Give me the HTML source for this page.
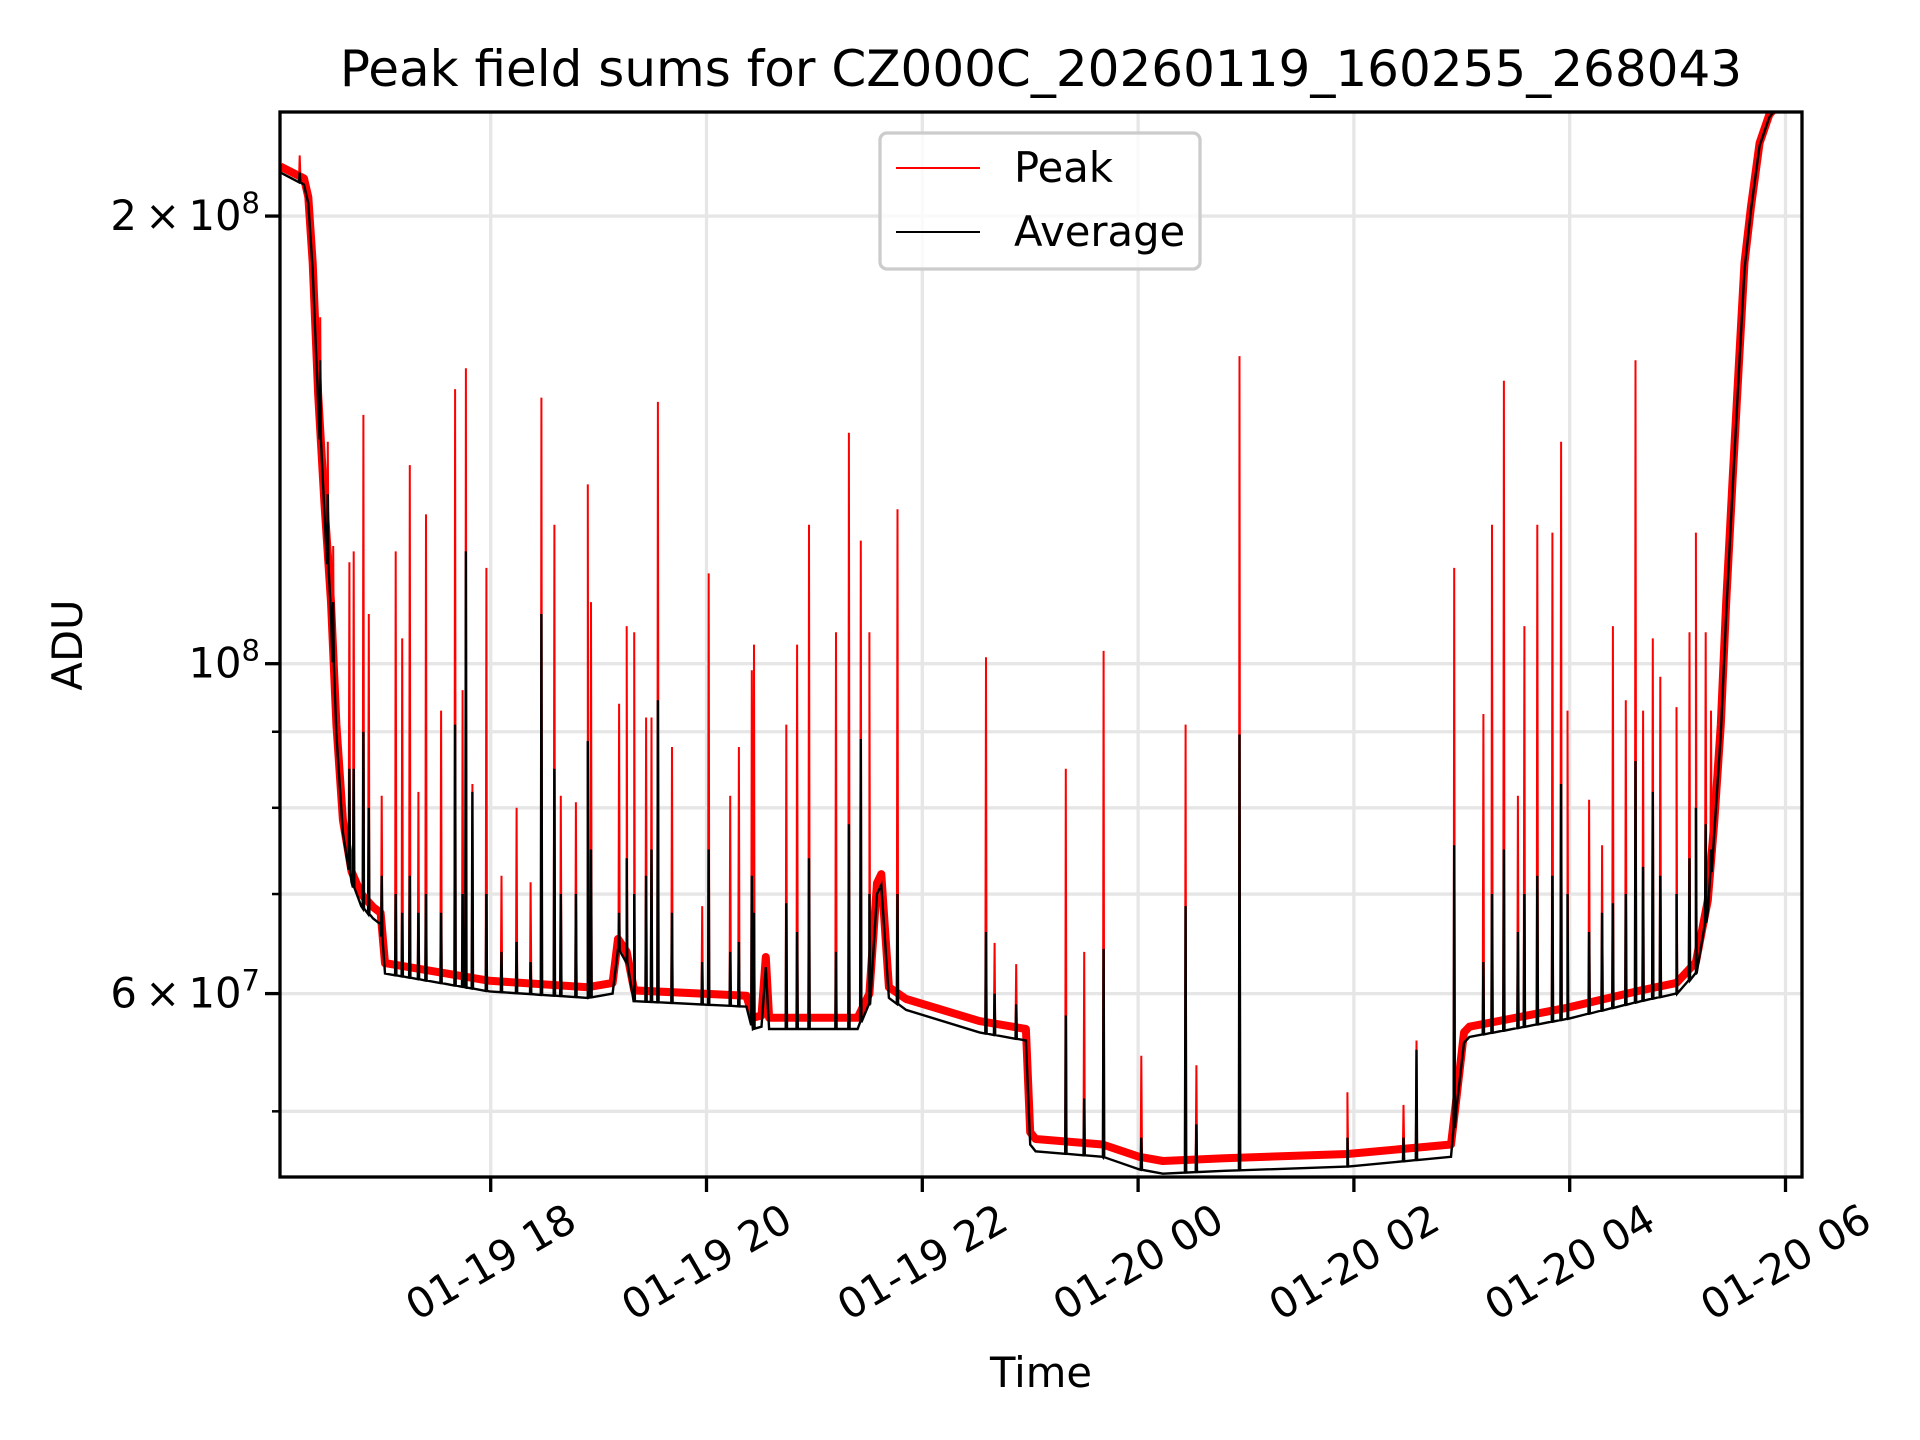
<!DOCTYPE html>
<html><head><meta charset="utf-8"><style>
html,body{margin:0;padding:0;background:#fff}
svg{display:block;font-family:"DejaVu Sans","Liberation Sans",sans-serif}
</style></head><body>
<svg id="chart" width="1920" height="1440" viewBox="0 0 1920 1440" xmlns="http://www.w3.org/2000/svg">
<rect width="1920" height="1440" fill="#fff"/>
<defs><clipPath id="clip"><rect x="280" y="112" width="1522" height="1065"/></clipPath></defs>
<g id="grid"></g>
<g id="series" clip-path="url(#clip)"></g>
<rect x="280" y="112" width="1522" height="1065" fill="none" stroke="#000" stroke-width="3.3"/>
<g id="ticks"></g>
<text x="1041" y="86" font-size="50" text-anchor="middle">Peak field sums for CZ000C_20260119_160255_268043</text>
<text x="1041" y="1387" font-size="41.7" text-anchor="middle">Time</text>
<text transform="translate(82,645) rotate(-90)" font-size="41.7" text-anchor="middle">ADU</text>
<g>
<rect x="880" y="133" width="320" height="136" rx="7" fill="#fff" fill-opacity="0.8" stroke="#ccc" stroke-width="3.3"/>
<line x1="896" y1="168" x2="980" y2="168" stroke="#f00" stroke-width="2"/>
<text x="1014" y="182" font-size="41.7">Peak</text>
<line x1="896" y1="232" x2="980" y2="232" stroke="#000" stroke-width="2"/>
<text x="1014" y="246" font-size="41.7">Average</text>
</g>
</svg>
<script>
// times in clock hours since 01-19 00:00; values in units of 1e7 ADU
const avgT=[16.05,16.27,16.31,16.35,16.40,16.46,16.52,16.57,16.63,16.71,16.80,16.91,16.98,17.02,17.99,18.90,19.13,19.18,19.26,19.33,20.37,20.43,20.51,20.55,20.58,21.40,21.51,21.58,21.62,21.69,21.85,22.53,22.96,23.00,23.05,23.67,24.01,24.23,24.80,25.94,26.90,26.95,27.02,27.07,27.98,28.66,28.99,29.17,29.28,29.34,29.40,29.45,29.51,29.57,29.62,29.68,29.76,29.85,29.98];
const avgV=[21.4,21.0,20.4,18.4,15.0,12.6,10.8,8.96,7.7,7.13,6.87,6.74,6.68,6.19,6.02,5.96,6.0,6.43,6.3,5.93,5.88,5.68,5.7,6.25,5.68,5.68,5.9,7.0,7.1,5.96,5.85,5.65,5.58,4.75,4.70,4.66,4.57,4.54,4.56,4.59,4.66,5.02,5.56,5.61,5.77,5.93,6.0,6.19,6.81,7.7,8.96,10.8,13.1,15.8,18.4,20.2,22.3,23.3,24.0];
const peakV=[21.6,21.2,20.6,18.6,15.2,12.8,11.0,9.1,7.85,7.25,7.0,6.86,6.8,6.29,6.12,6.06,6.1,6.53,6.4,6.03,5.98,5.78,5.8,6.35,5.78,5.78,6.0,7.12,7.22,6.06,5.95,5.75,5.68,4.84,4.79,4.75,4.66,4.63,4.65,4.68,4.75,5.1,5.65,5.7,5.87,6.03,6.1,6.3,6.93,7.83,9.1,11.0,13.3,16.0,18.6,20.3,22.4,23.4,24.0];
const spikeT=[16.23,16.42,16.49,16.54,16.69,16.73,16.82,16.87,16.99,17.12,17.18,17.25,17.33,17.40,17.54,17.67,17.74,17.77,17.83,17.96,18.10,18.24,18.37,18.47,18.59,18.65,18.79,18.90,18.93,19.19,19.26,19.33,19.44,19.49,19.55,19.68,19.96,20.02,20.22,20.30,20.42,20.44,20.74,20.84,20.95,21.20,21.32,21.43,21.51,21.77,22.59,22.67,22.87,23.33,23.50,23.68,24.03,24.44,24.54,24.94,25.94,26.46,26.58,26.93,27.20,27.28,27.39,27.52,27.58,27.70,27.84,27.92,27.98,28.18,28.30,28.40,28.52,28.61,28.68,28.77,28.84,28.99,29.11,29.17,29.26,29.31];
const spikePeakV=[21.97,17.1,14.1,12.0,11.7,11.9,14.7,10.8,8.15,11.9,10.4,13.6,8.2,12.6,9.3,15.3,9.6,15.8,8.3,11.6,7.2,8.0,7.13,15.1,12.4,8.15,8.07,13.2,11.0,9.4,10.6,10.5,9.2,9.2,15.0,8.79,6.87,11.5,8.15,8.79,9.9,10.3,9.1,10.3,12.4,10.5,14.3,12.1,10.5,12.7,10.1,6.49,6.28,8.5,6.4,10.2,5.45,9.1,5.37,16.1,5.15,5.05,5.58,11.6,9.25,12.4,15.5,8.15,10.6,12.4,12.25,14.1,9.3,8.1,7.55,10.6,9.45,16.0,9.3,10.4,9.8,9.35,10.5,12.25,10.5,9.3];
const spikeAvgV=[21.4,16.0,13.0,11.0,8.5,8.5,9.0,8.0,7.2,7.0,6.8,7.2,6.8,7.0,6.8,9.1,7.0,11.9,8.2,7.0,6.4,6.5,6.3,10.8,8.5,7.0,7.0,8.87,7.5,6.8,7.4,7.0,7.2,7.5,9.45,6.8,6.3,7.5,6.4,6.5,7.2,6.8,6.9,6.6,7.4,6.4,7.8,8.9,7.0,7.0,6.6,6.0,5.9,5.8,5.1,6.43,4.8,6.87,4.9,8.96,4.8,4.8,5.5,7.55,6.3,7.0,7.5,6.6,7.0,7.2,7.2,8.3,7.0,6.6,6.8,6.9,7.0,8.6,7.3,8.2,7.2,7.0,7.4,8.0,7.8,7.5];
const xTickHours=[18,20,22,24,26,28,30];
const xTickLabels=["01-19 18","01-19 20","01-19 22","01-20 00","01-20 02","01-20 04","01-20 06"];
const yMajor=[20,10,6];
const yMinor=[5,7,8,9];

const NS="http://www.w3.org/2000/svg";
function X(h){return 490.7+(h-18)*107.9;}
function Y(v){return 663.7-1487*Math.log10(v/10);}
function mk(tag,attrs,parent){const e=document.createElementNS(NS,tag);for(const k in attrs)e.setAttribute(k,attrs[k]);parent.appendChild(e);return e;}
function interp(T,V,t){
  if(t<=T[0])return V[0];
  for(let i=1;i<T.length;i++){if(t<=T[i]){const f=(t-T[i-1])/(T[i]-T[i-1]);return Math.pow(10,Math.log10(V[i-1])*(1-f)+Math.log10(V[i])*f);}}
  return V[V.length-1];
}
const grid=document.getElementById('grid'),ticks=document.getElementById('ticks'),series=document.getElementById('series');
xTickHours.forEach((h,i)=>{
  const x=X(h);
  const g=mk('line',{x1:x,x2:x,y1:112,y2:1177,stroke:'#e6e6e6','stroke-width':3.3},grid);
  
  
  const t=mk('line',{x1:x,x2:x,y1:1177,y2:1192,stroke:'#000','stroke-width':3.3},ticks);
  
  
  const l=mk('text',{transform:`translate(${x},1262) rotate(-30)`,'font-size':41.7,'text-anchor':'middle','dominant-baseline':'central'},ticks);
  l.textContent=xTickLabels[i];
  
  
});
yMajor.concat(yMinor).forEach(v=>{
  const y=Y(v);
  const g=mk('line',{x1:280,x2:1802,y1:y,y2:y,stroke:'#e6e6e6','stroke-width':3.3},grid);
  
  
});
yMajor.forEach(v=>{
  const y=Y(v);
  const t=mk('line',{x1:265,x2:280,y1:y,y2:y,stroke:'#000','stroke-width':3.3},ticks);
  
  
  const l=mk('text',{x:260,y:y+14,'font-size':41.7,'text-anchor':'end'},ticks);
  let mant,exp;
  if(v>=10){exp=8;mant=v/10;}else{exp=7;mant=v;}
  const base=(mant===1)?'10':(mant+'\u2009\u00d7\u200910');
  const s1=document.createElementNS(NS,'tspan');s1.textContent=base;l.appendChild(s1);
  const s2=document.createElementNS(NS,'tspan');s2.setAttribute('dy','-17');s2.setAttribute('font-size','29');s2.textContent=String(exp);l.appendChild(s2);
  
  
});
yMinor.forEach(v=>{
  const y=Y(v);
  const t=mk('line',{x1:272,x2:280,y1:y,y2:y,stroke:'#000','stroke-width':2.5},ticks);
  
  
});
function basePath(T,V){return T.map((t,i)=>(i?'L':'M')+X(t).toFixed(1)+','+Y(V[i]).toFixed(1)).join('');}
function spikePath(T,V,SV){
  const pts=[];T.forEach((t,i)=>pts.push([t,V[i]]));
  const e=0.006;
  spikeT.forEach((t,i)=>{const b=interp(T,V,t);const s=SV[i];if(s>b){pts.push([t-e,b]);pts.push([t,s]);pts.push([t+e,b]);}});
  pts.sort((a,b)=>a[0]-b[0]);
  return pts.map((p,i)=>(i?'L':'M')+X(p[0]).toFixed(1)+','+Y(p[1]).toFixed(1)).join('');
}
const band=mk('path',{d:basePath(avgT,peakV),fill:'none',stroke:'#f00','stroke-width':8,'stroke-linejoin':'round'},series);


const pk=mk('path',{d:spikePath(avgT,peakV,spikePeakV),fill:'none',stroke:'#f00','stroke-width':2,'stroke-linejoin':'miter'},series);


const av=mk('path',{d:spikePath(avgT,avgV,spikeAvgV),fill:'none',stroke:'#000','stroke-width':2.4,'stroke-linejoin':'miter'},series);


</script>
</body></html>
